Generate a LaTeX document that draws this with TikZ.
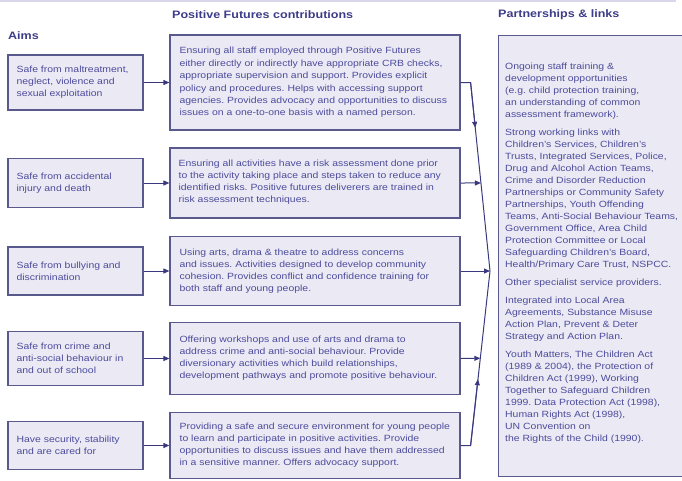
\documentclass[tikz,border=0pt]{standalone}
\usepackage{fontspec}
\setmainfont{Liberation Sans}[FakeStretch=1.16]
\usetikzlibrary{arrows.meta,calc}
\definecolor{ink}{HTML}{4C4B9C}
\definecolor{headink}{HTML}{3D3C88}
\definecolor{edge}{HTML}{5A598E}
\definecolor{wire}{HTML}{3A3980}
\definecolor{panel}{HTML}{EBEAF4}
\definecolor{rule}{HTML}{D9D7EA}
\tikzset{
  bodytext/.style={font=\fontsize{9}{12}\selectfont, text=ink, align=left,
    inner sep=0pt, anchor=west},
  head/.style={font=\fontsize{10.8}{12}\selectfont\bfseries, text=headink,
    anchor=west, inner sep=0pt},
  panelbox/.style={draw=edge, fill=panel, line width=1.2pt, inner sep=0pt},
  aimbox/.style={panelbox, minimum width=135pt},
  workbox/.style={panelbox, minimum width=290pt},
  conn/.style={draw=wire, line width=1pt},
  tip/.style={-{Triangle[length=6pt,width=5pt]}},
}
\begin{document}
\frenchspacing
\begin{tikzpicture}[x=1pt,y=-1pt]
\useasboundingbox (0,0) rectangle (682,480);

% faint page rule along the top
\draw[rule, line width=1.2pt] (0,1) -- (676,1);

% column headings
\node[head] (hAims)  at (8,36)   {Aims};
\node[head] (hWork)  at (172,15) {Positive Futures contributions};
\node[head] (hLinks) at (498,15) {Partnerships \& links};

% aims column
\node[aimbox, minimum height=55pt] (a1) at (75.5,82.5)  {};
\node[aimbox, minimum height=49pt] (a2) at (75.5,183)   {};
\node[aimbox, minimum height=48pt] (a3) at (75.5,271)   {};
\node[aimbox, minimum height=54pt] (a4) at (75.5,358.5) {};
\node[aimbox, minimum height=48pt] (a5) at (75.5,445.5) {};

\node[bodytext] (ta1) at ($(a1.west)+(9,0)$)
  {Safe from maltreatment,\\ neglect, violence and\\ sexual exploitation};
\node[bodytext] (ta2) at ($(a2.west)+(9,0)$)
  {Safe from accidental\\ injury and death};
\node[bodytext] (ta3) at ($(a3.west)+(9,0)$)
  {Safe from bullying and\\ discrimination};
\node[bodytext] (ta4) at ($(a4.west)+(9,0)$)
  {Safe from crime and\\ anti-social behaviour in\\ and out of school};
\node[bodytext] (ta5) at ($(a5.west)+(9,0)$)
  {Have security, stability\\ and are cared for};

% contributions column
\node[workbox, minimum height=95pt] (m1) at (315,82.5)  {};
\node[workbox, minimum height=70pt] (m2) at (315,183)   {};
\node[workbox, minimum height=69pt] (m3) at (315,271)   {};
\node[workbox, minimum height=72pt] (m4) at (315,358.5) {};
\node[workbox, minimum height=66pt] (m5) at (315,445.5) {};

\node[bodytext, font=\fontsize{9}{12.4}\selectfont] (tm1) at ($(m1.west)+(10,0)$)
  {Ensuring all staff employed through Positive Futures\\
   either directly or indirectly have appropriate CRB checks,\\
   appropriate supervision and support. Provides explicit\\
   policy and procedures. Helps with accessing support\\
   agencies. Provides advocacy and opportunities to discuss\\
   issues on a one-to-one basis with a named person.};
\node[bodytext] (tm2) at ($(m2.west)+(9,-1)$)
  {Ensuring all activities have a risk assessment done prior\\
   to the activity taking place and steps taken to reduce any\\
   identified risks. Positive futures deliverers are trained in\\
   risk assessment techniques.};
\node[bodytext] (tm3) at ($(m3.west)+(10,0)$)
  {Using arts, drama \& theatre to address concerns\\
   and issues. Activities designed to develop community\\
   cohesion. Provides conflict and confidence training for\\
   both staff and young people.};
\node[bodytext] (tm4) at ($(m4.west)+(10,0)$)
  {Offering workshops and use of arts and drama to\\
   address crime and anti-social behaviour. Provide\\
   diversionary activities which build relationships,\\
   development pathways and promote positive behaviour.};
\node[bodytext] (tm5) at ($(m5.west)+(10,0)$)
  {Providing a safe and secure environment for young people\\
   to learn and participate in positive activities. Provide\\
   opportunities to discuss issues and have them addressed\\
   in a sensitive manner. Offers advocacy support.};

% partnerships panel (runs off the right edge)
\node[panelbox, line width=1.4pt, minimum width=200pt, minimum height=441pt,
  anchor=north west] (links) at (497.5,35) {};
\node[bodytext, anchor=north west] (linktext) at (505,63)
  {Ongoing staff training \&\\
   development opportunities\\
   (e.g. child protection training,\\
   an understanding of common\\
   assessment framework).\\[6pt]
   Strong working links with\\
   Children's Services, Children's\\
   Trusts, Integrated Services, Police,\\
   Drug and Alcohol Action Teams,\\
   Crime and Disorder Reduction\\
   Partnerships or Community Safety\\
   Partnerships, Youth Offending\\
   Teams, Anti-Social Behaviour Teams,\\
   Government Office, Area Child\\
   Protection Committee or Local\\
   Safeguarding Children's Board,\\
   Health/Primary Care Trust, NSPCC.\\[6pt]
   Other specialist service providers.\\[6pt]
   Integrated into Local Area\\
   Agreements, Substance Misuse\\
   Action Plan, Prevent \& Deter\\
   Strategy and Action Plan.\\[6pt]
   Youth Matters, The Children Act\\
   (1989 \& 2004), the Protection of\\
   Children Act (1999), Working\\
   Together to Safeguard Children\\
   1999. Data Protection Act (1998),\\
   Human Rights Act (1998),\\
   UN Convention on\\
   the Rights of the Child (1990).};

% aims feed their contributions
\foreach \i in {1,...,5}
  \draw[conn, tip] (a\i) -- (m\i);

% contributions converge on the partnerships panel
\coordinate (apex) at (490,271);
\coordinate (k1) at ($(m1.east)+(10,0)$);
\coordinate (k5) at ($(m5.east)+(10,0)$);
\coordinate (j2) at ($(k1)!0.533!(apex)$);
\coordinate (j4) at ($(k5)!0.5!(apex)$);

\draw[conn] (m1.east) -- (k1) -- (apex);
\draw[conn] (m5.east) -- (k5) -- (apex);
\draw[conn, tip] (k1) -- ($(k1)!0.24!(apex)$);
\draw[conn, tip] (k5) -- ($(k5)!0.38!(apex)$);
\draw[conn, tip] (m2.east) -- (j2);
\draw[conn, tip] (m3.east) -- (apex);
\draw[conn, tip] (m4.east) -- (j4);
\end{tikzpicture}
\end{document}
